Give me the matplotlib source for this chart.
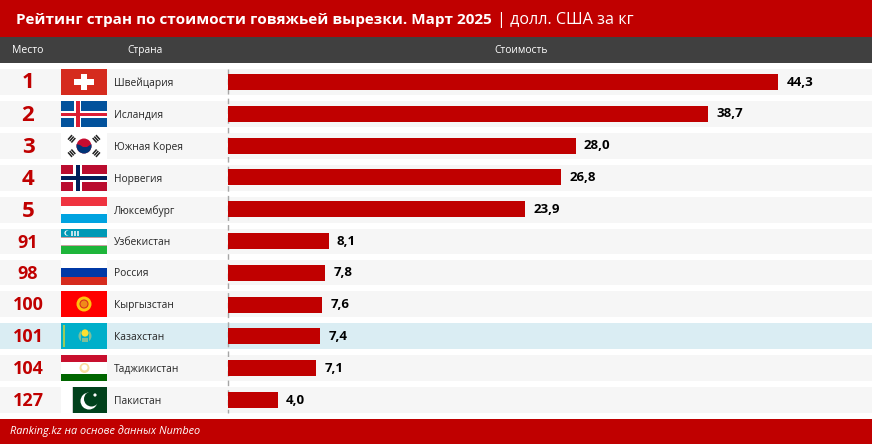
import matplotlib
matplotlib.use("Agg")
import matplotlib.pyplot as plt
from matplotlib.patches import Rectangle, Circle, Polygon

ranks = ["1", "2", "3", "4", "5", "91", "98", "100", "101", "104", "127"]
countries = ["Швейцария", "Исландия", "Южная Корея", "Норвегия", "Люксембург", "Узбекистан",
             "Россия", "Кыргызстан", "Казахстан", "Таджикистан", "Пакистан"]
values = [44.3, 38.7, 28.0, 26.8, 23.9, 8.1, 7.8, 7.6, 7.4, 7.1, 4.0]
title_bold = "Рейтинг стран по стоимости говяжьей вырезки. Март 2025"
title_rest = "| долл. США за кг"
headers = ["Место", "Страна", "Стоимость"]
footer = "Ranking.kz на основе данных Numbeo"

RED = "#C00000"
W, H = 872, 444
FONT = "Open Sans"
fig = plt.figure(figsize=(W / 100, H / 100), dpi=100, facecolor="white")
bg = fig.add_axes([0, 0, 1, 1])
bg.set_xlim(0, W); bg.set_ylim(H, 0); bg.axis("off")


def rect(x, y, w, h, c, z=1, ax=bg):
    ax.add_patch(Rectangle((x, y), w, h, fc=c, ec="none", zorder=z))


rect(0, 0, W, 37, RED)
rect(0, 37, W, 26, "#404040")
rect(0, 419, W, 25, RED)

tops = [69, 101, 133, 165, 197, 229, 260, 291, 323, 355, 387]
heights = [26, 26, 26, 26, 26, 25, 25, 26, 26, 26, 26]
HI = 8
for i, (t, h) in enumerate(zip(tops, heights)):
    rect(0, t, W, h, "#DAEDF3" if i == HI else "#F6F6F6")
    cy = t + h / 2
    bg.text(28, cy + 1, ranks[i], color=RED, fontsize=16 if len(ranks[i]) == 1 else 13,
            fontweight="bold", ha="center", va="center", family=FONT)
    bg.text(114, cy + 1.2, countries[i], color="#262626", fontsize=7.4, ha="left", va="center", family=FONT)

bg.text(12, 50.8, headers[0], color="white", fontsize=7.5, ha="left", va="center", family=FONT)
bg.text(127, 50.8, headers[1], color="white", fontsize=7.3, ha="left", va="center", family=FONT)
bg.text(494, 50.8, headers[2], color="white", fontsize=7.4, ha="left", va="center", family=FONT)

bg.text(16, 20, title_bold, color="white", fontsize=10.95, fontweight="bold", ha="left", va="center", family=FONT)
bg.text(497, 20, title_rest, color="white", fontsize=11.6, ha="left", va="center", family=FONT)
bg.text(10, 431, footer, color="white", fontsize=7.85, style="italic", ha="left", va="center", family=FONT)


def flag_ch(x, y, w, h):
    rect(x, y, w, h, "#D52B1E", 2)
    cx, cy = x + w / 2, y + h / 2
    rect(cx - 10, cy - 3, 20, 6, "white", 3)
    rect(cx - 3, cy - 8, 6, 16, "white", 3)


def flag_is(x, y, w, h):
    rect(x, y, w, h, "#02529C", 2)
    rect(x + 13, y, 7, h, "white", 3); rect(x, y + 10, w, 6.5, "white", 3)
    rect(x + 14.5, y, 4, h, "#DC1E35", 4); rect(x, y + 11.5, w, 3.5, "#DC1E35", 4)


def flag_kr(x, y, w, h):
    rect(x, y, w, h, "white", 2)
    cx, cy = x + w / 2, y + h / 2
    disc = Circle((cx, cy), 7.5, fc="#C60C30", ec="none", zorder=3)
    bg.add_patch(disc)
    yin = Polygon([(cx - 8, cy - 2), (cx - 4, cy - 1), (cx - 1, cy + 1), (cx + 3, cy + 1), (cx + 6, cy - 1),
                   (cx + 8, cy - 2), (cx + 8, cy + 8), (cx - 8, cy + 8)], fc="#003478", ec="none", zorder=4)
    bg.add_patch(yin)
    yin.set_clip_path(disc)
    for dx, dy in [(-1, -1), (1, -1), (-1, 1), (1, 1)]:
        px, py = cx + dx * 12.3, cy + dy * 7.2
        nx, ny = dx * 0.75, dy * 0.66
        tx, ty = -ny, nx
        for k in (-2.2, 0, 2.2):
            qx, qy = px + k * nx, py + k * ny
            bg.plot([qx - 3 * tx, qx + 3 * tx], [qy - 3 * ty, qy + 3 * ty], color="#222222", lw=1.1,
                    zorder=3, solid_capstyle="butt")


def flag_no(x, y, w, h):
    rect(x, y, w, h, "#BA0C2F", 2)
    rect(x + 12, y, 9, h, "white", 3); rect(x, y + 9, w, 7.5, "white", 3)
    rect(x + 14.5, y, 4, h, "#00205B", 4); rect(x, y + 11, w, 3.5, "#00205B", 4)


def flag_lu(x, y, w, h):
    rect(x, y, w, h / 3, "#EF3340", 2); rect(x, y + h / 3, w, h / 3, "white", 2)
    rect(x, y + 2 * h / 3, w, h / 3, "#00A3E0", 2)


def flag_uz(x, y, w, h):
    rect(x, y, w, h / 3, "#0099B5", 2); rect(x, y + h / 3, w, h / 3, "white", 2)
    rect(x, y + 2 * h / 3, w, h / 3, "#1EB53A", 2)
    rect(x, y + h / 3 - 0.5, w, 0.8, "#C9A0A0", 3); rect(x, y + 2 * h / 3 - 0.3, w, 0.8, "#C9A0A0", 3)
    bg.add_patch(Circle((x + 6, y + 4), 2.6, fc="white", ec="none", zorder=3))
    bg.add_patch(Circle((x + 7, y + 4), 2.3, fc="#0099B5", ec="none", zorder=4))
    for dx in (10, 13, 16):
        rect(x + dx, y + 2, 1.6, 4.5, "#BFE3EC", 3)


def flag_ru(x, y, w, h):
    rect(x, y, w, h / 3, "white", 2); rect(x, y + h / 3, w, h / 3, "#0039A6", 2)
    rect(x, y + 2 * h / 3, w, h / 3, "#D52B1E", 2)


def flag_kg(x, y, w, h):
    rect(x, y, w, h, "#FF0000", 2)
    cx, cy = x + w / 2, y + h / 2
    bg.add_patch(Circle((cx, cy), 7.5, fc="#FFC20E", ec="none", zorder=3))
    bg.add_patch(Circle((cx, cy), 4, fc="#F08A1A", ec="#D8301E", lw=0.8, zorder=4))


def flag_kz(x, y, w, h):
    rect(x, y, w, h, "#00AFCA", 2)
    rect(x + 1.5, y + 2, 2.8, h - 4, "#9CCB5A", 3)
    cx, cy = x + w / 2 + 1, y + h / 2
    bg.add_patch(Circle((cx, cy - 3), 3.6, fc="#FEE030", ec="none", zorder=4))
    bg.add_patch(Circle((cx, cy), 6.5, fc="#7FBF9A", ec="none", zorder=3))
    rect(cx - 4, cy - 7, 8, 14, "#00AFCA", 3.5)
    rect(cx - 3, cy + 2, 6, 4, "#7FBF9A", 3.6)


def flag_tj(x, y, w, h):
    rect(x, y, w, h * 0.28, "#C8102E", 2); rect(x, y + h * 0.28, w, h * 0.44, "white", 2)
    rect(x, y + h * 0.72, w, h * 0.28, "#006600", 2)
    cx, cy = x + w / 2 + 0.5, y + h / 2
    bg.add_patch(Circle((cx, cy), 5, fc="#F8DE9E", ec="none", zorder=3))
    bg.add_patch(Circle((cx, cy - 0.5), 3, fc="white", ec="none", zorder=4))


def flag_pk(x, y, w, h):
    rect(x, y, 11, h, "white", 2)
    x0 = x + 11
    rect(x0, y, 1, h, "#CFCFCF", 2)
    rect(x0 + 1, y, w - 12, h, "#01411C", 2)
    cx, cy = x0 + 17, y + h / 2 + 1
    bg.add_patch(Circle((cx, cy), 8.5, fc="white", ec="none", zorder=3))
    bg.add_patch(Circle((cx + 2.5, cy - 2), 7.5, fc="#01411C", ec="none", zorder=4))
    bg.add_patch(Circle((cx + 6, cy - 6), 1.6, fc="white", ec="none", zorder=5))


flags = [flag_ch, flag_is, flag_kr, flag_no, flag_lu, flag_uz, flag_ru, flag_kg, flag_kz, flag_tj, flag_pk]
for f, t, h in zip(flags, tops, heights):
    f(61, t, 46, h)

bg.plot([227.5, 227.5], [69, 413], color="#A6A6A6", lw=1, ls=(0, (4, 3)), zorder=6)

# Bars: a value axis with 0 at x=228 px and about 12.415 px per unit
PX = 550 / 44.3
ax = fig.add_axes([228 / W, 0, 1 - 228 / W, 1])
ax.patch.set_alpha(0)
ax.set_xlim(0, (W - 228) / PX)
centers = [t + h / 2 for t, h in zip(tops, heights)]
pitch = (centers[-1] - centers[0]) / 10
ax.set_ylim((H - centers[0]) / pitch, -centers[0] / pitch)
ax.axis("off")
pos = list(range(len(values)))
ax.barh(pos, values, height=16 / pitch, color=RED, zorder=3)
for p, v in zip(pos, values):
    ax.annotate(f"{v:.1f}".replace(".", ","), (v, p), xytext=(6, 0), textcoords="offset points",
                color="black", fontsize=9.5, fontweight="bold", va="center", ha="left", family=FONT)

fig.savefig("out.png", dpi=100, facecolor="white")
